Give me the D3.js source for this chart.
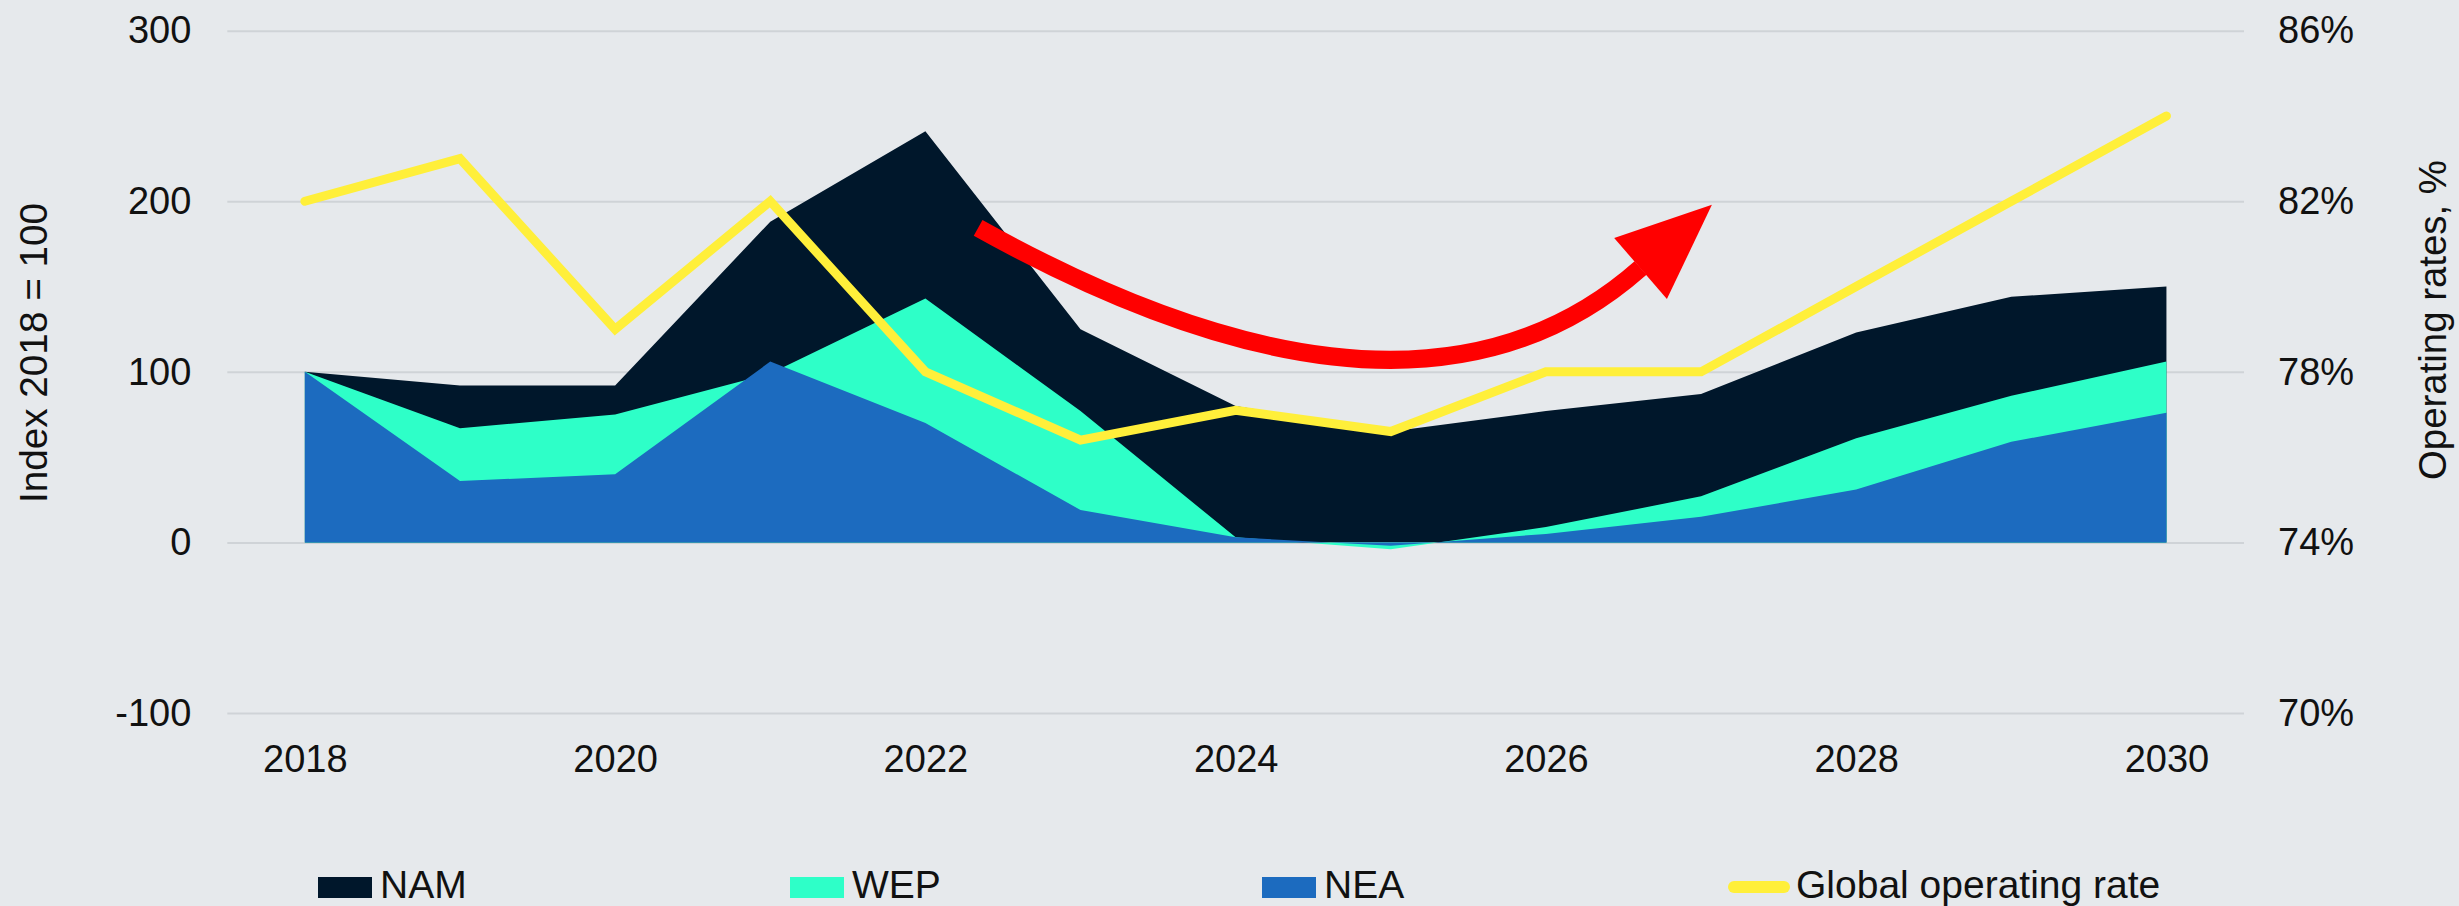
<!DOCTYPE html>
<html>
<head>
<meta charset="utf-8">
<script src="https://cdn.jsdelivr.net/npm/d3@7"></script>
<style>
  html, body { margin: 0; padding: 0; background: #e6e9ec; }
  svg { display: block; font-family: "Liberation Sans", Arial, sans-serif; }
</style>
</head>
<body>
<svg id="chart" width="2459" height="906"></svg>
<script>
// ---- data ----
const years = [2018, 2019, 2020, 2021, 2022, 2023, 2024, 2025, 2026, 2027, 2028, 2029, 2030];
const nam = [100, 92, 92, 188, 241, 125, 80, 65, 77, 87, 123, 144, 150];
const wep = [100, 67, 75, 99, 143, 77, 3, -4, 9, 27, 61, 86, 106];
const nea = [100, 36, 40, 106, 70, 19, 3, -2, 5, 15, 31, 59, 76];
const operatingRate = [82, 83, 79, 82, 78, 76.4, 77.1, 76.6, 78, 78, 80, 82, 84];

const indexTicks = [-100, 0, 100, 200, 300];
const rateTicks = [70, 74, 78, 82, 86];
const yearTicks = [2018, 2020, 2022, 2024, 2026, 2028, 2030];

const areaNames = ["NAM", "WEP", "NEA"];
const lineName = "Global operating rate";
const leftTitle = "Index 2018 = 100";
const rightTitle = "Operating rates, %";

// curved trend arrow, in (year, index) units
const arrowStart = [2022.34, 184.4];
const arrowControl = [2025.14, 42.5];
const arrowEnd = [2026.61, 160.9];
const arrowTip = [2027.07, 197.9];
const arrowWings = [[2026.44, 178.5], [2026.78, 142.7]];

// ---- styles ----
const colors = { NAM: "#00172b", WEP: "#2effc8", NEA: "#1c6bbf", line: "#ffef3a", arrow: "#ff0000",
                 grid: "#cfd3d7", text: "#111111" };
const FONT = "'Liberation Sans', Arial, sans-serif";

const svg = d3.select("#chart");

const x = d3.scaleLinear().domain([2017.5, 2030.5]).range([227.3, 2244]);
const yL = d3.scaleLinear().domain([-100, 300]).range([713, 30.7]);
const yR = d3.scaleLinear().domain([70, 86]).range([713, 30.7]);

// gridlines + left axis labels
const leftAxis = d3.axisLeft(yL).tickValues(indexTicks)
  .tickSize(-(x.range()[1] - x.range()[0])).tickPadding(36).tickFormat(d => String(d));
const gL = svg.append("g").attr("transform", `translate(${x.range()[0]},0)`).call(leftAxis);
gL.select(".domain").remove();
gL.selectAll(".tick line").attr("stroke", colors.grid).attr("stroke-width", 2);
gL.selectAll(".tick text").attr("fill", colors.text).style("font-size", "38px").style("font-family", FONT);

// right axis labels
const rightAxis = d3.axisRight(yR).tickValues(rateTicks).tickSize(0).tickPadding(34).tickFormat(d => d + "%");
const gR = svg.append("g").attr("transform", `translate(${x.range()[1]},0)`).call(rightAxis);
gR.select(".domain").remove();
gR.selectAll(".tick text").attr("fill", colors.text).style("font-size", "38px").style("font-family", FONT);

// bottom axis labels
const bottomAxis = d3.axisBottom(x).tickValues(yearTicks).tickSize(0).tickPadding(0).tickFormat(d => String(d));
const gB = svg.append("g").attr("transform", "translate(0,745)").call(bottomAxis);
gB.select(".domain").remove();
gB.selectAll(".tick text").attr("fill", colors.text).style("font-size", "38px")
  .style("font-family", FONT).attr("dy", "0.72em");

// overlapping areas, each filled from zero
const seriesData = { NAM: nam, WEP: wep, NEA: nea };
const area = d3.area().x((d, i) => x(years[i])).y0(yL(0)).y1(d => yL(d));
areaNames.forEach(name => {
  svg.append("path").datum(seriesData[name]).attr("d", area).attr("fill", colors[name]);
});

// operating-rate line on the right scale
const line = d3.line().x((d, i) => x(years[i])).y(d => yR(d));
svg.append("path").datum(operatingRate).attr("d", line)
  .attr("fill", "none").attr("stroke", colors.line).attr("stroke-width", 9)
  .attr("stroke-linecap", "round").attr("stroke-linejoin", "miter");

// trend arrow
const px = p => [x(p[0]), yL(p[1])];
const s = px(arrowStart), c = px(arrowControl), e = px(arrowEnd);
const arc = d3.path();
arc.moveTo(s[0], s[1]);
arc.quadraticCurveTo(c[0], c[1], e[0], e[1]);
svg.append("path").attr("d", arc.toString()).attr("fill", "none")
  .attr("stroke", colors.arrow).attr("stroke-width", 18).attr("stroke-linecap", "butt");
svg.append("polygon")
  .attr("points", [arrowTip, arrowWings[0], arrowWings[1]].map(p => px(p).join(",")).join(" "))
  .attr("fill", colors.arrow);

// axis titles
svg.append("text").attr("transform", "translate(47,353) rotate(-90)")
  .attr("text-anchor", "middle").attr("fill", colors.text).style("font-size", "38px")
  .attr("textLength", 300).attr("lengthAdjust", "spacingAndGlyphs").text(leftTitle);
svg.append("text").attr("transform", "translate(2446,320) rotate(-90)")
  .attr("text-anchor", "middle").attr("fill", colors.text).style("font-size", "38px")
  .attr("textLength", 320).attr("lengthAdjust", "spacingAndGlyphs").text(rightTitle);

// legend
const legendItems = areaNames.concat([lineName]);
const legend = svg.append("g");
legendItems.forEach((name, i) => {
  const lx = 318 + i * 472;
  if (name === lineName) {
    legend.append("line").attr("x1", lx).attr("x2", lx + 50).attr("y1", 887).attr("y2", 887)
      .attr("stroke", colors.line).attr("stroke-width", 12).attr("stroke-linecap", "round");
  } else {
    legend.append("rect").attr("x", lx).attr("y", 877).attr("width", 54).attr("height", 21)
      .attr("fill", colors[name]);
  }
  legend.append("text").attr("x", lx + 62).attr("y", 898).attr("fill", colors.text)
    .style("font-size", "39px").text(name);
});
</script>
</body>
</html>
